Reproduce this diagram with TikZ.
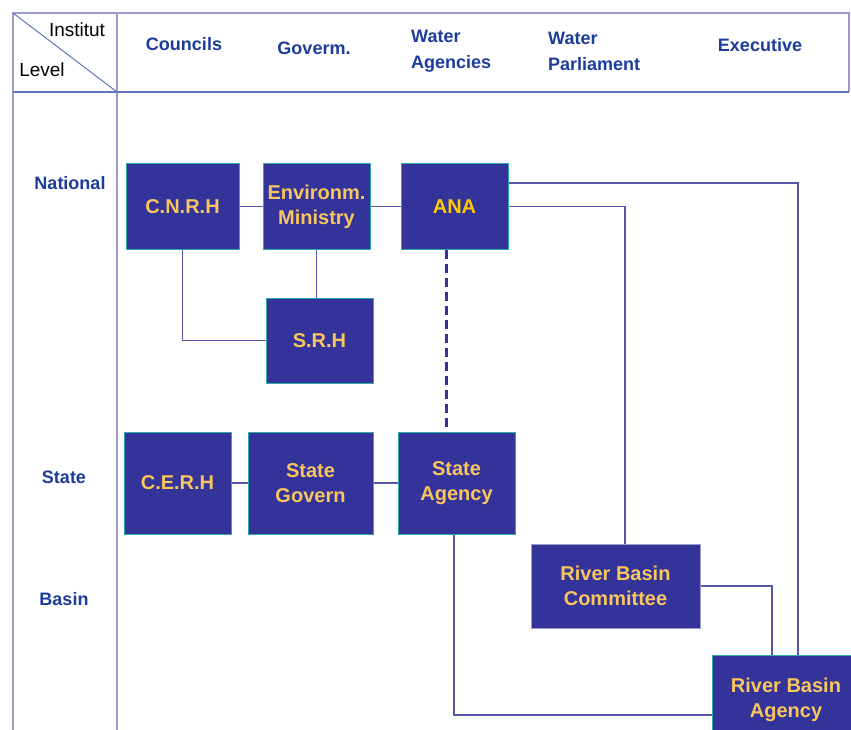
\documentclass[tikz,border=0pt]{standalone}
\usepackage{fontspec}
\setmainfont{Liberation Sans}
\usetikzlibrary{positioning}
\definecolor{boxblue}{HTML}{333399}
\definecolor{boxedge}{HTML}{2FA8A8}
\definecolor{boxtext}{HTML}{F8C55E}
\definecolor{anatext}{HTML}{FFCC00}
\definecolor{headblue}{HTML}{1B3C9A}
\definecolor{gridline}{HTML}{9C9CCC}
\definecolor{linkline}{HTML}{5656AA}

\begin{document}
\begin{tikzpicture}[x=1pt,y=-1pt,
  inst/.style={fill=boxblue,draw=boxedge,line width=1pt,text=boxtext,font=\fontsize{20}{25}\selectfont\bfseries,align=center,inner sep=0pt},
  head/.style={font=\fontsize{18}{26}\selectfont\bfseries,text=headblue,align=left,inner sep=0pt},
  grid/.style={draw=gridline,line width=1.5pt},
  link/.style={draw=linkline,line width=1.2pt}]
\useasboundingbox (0,0) rectangle (851,730);

% table frame
\draw[grid] (13,730) -- (13,13) -- (849,13) -- (849,92);
\draw[grid] (117,13) -- (117,730);
\draw[draw=headblue!70,line width=1.2pt] (13,92) -- (849,92);
\draw[draw=headblue!70,line width=1pt] (13,13) -- (117,92);

\node[font=\fontsize{19}{22}\selectfont,inner sep=0pt] (inst) at (77,30) {Institut};
\node[font=\fontsize{19}{22}\selectfont,inner sep=0pt] (level) at (42,70) {Level};

\node[head] (councils) at (184,44) {Councils};
\node[head] (goverm) at (314,48) {Goverm.};
\node[head,anchor=west] (wagencies) at (411,51) {Water\\Agencies};
\node[head,anchor=west] (wparl) at (548,51) {Water\\Parliament};
\node[head] (exec) at (760,45) {Executive};

\node[head] (national) at (70,183) {National};
\node[head] (state) at (64,477) {State};
\node[head] (basin) at (64,599) {Basin};

% institutions
\node[inst,minimum width=113pt,minimum height=85pt] (cnrh) at (182.5,206.5) {C.N.R.H};
\node[inst,minimum width=107pt,minimum height=85pt] (envmin) at (316.5,206.5) {Environm.\\Ministry};
\node[inst,minimum width=107pt,minimum height=85pt,text=anatext] (ana) at (454.5,206.5) {ANA};
\node[inst,minimum width=107pt,minimum height=85pt] (srh) at (319.5,340.5) {S.R.H};
\node[inst,minimum width=107pt,minimum height=102pt] (cerh) at (177.5,483) {C.E.R.H};
\node[inst,minimum width=125pt,minimum height=102pt] (stgov) at (310.5,483) {State\\Govern};
\node[inst,minimum width=117pt,minimum height=102pt] (stag) at (456.5,483) {State\\Agency};
\node[inst,draw=gridline,minimum width=169pt,minimum height=84pt] (rbc) at (615.5,586) {River Basin\\Committee};
\node[inst,minimum width=148pt,minimum height=90pt] (rba) at (786,700) {River Basin\\Agency};

% links
\draw[link] (cnrh.east) -- (envmin.west);
\draw[link] (envmin.east) -- (ana.west);
\draw[link] (envmin.south) -- (envmin.south |- srh.north);
\draw[link] (cnrh.south) |- (srh.west);
\draw[link,dash pattern=on 9pt off 5pt,line width=2.5pt,draw=boxblue] ([xshift=-8pt]ana.south) -- ([xshift=-8pt]ana.south |- stag.north);
\draw[link] (cerh.east) -- (stgov.west);
\draw[link] (stgov.east) -- (stag.west);
\draw[link] ([yshift=23.5pt]ana.east) -| ([xshift=12pt]rba.north);
\draw[link] (ana.east) -| ([xshift=9.5pt]rbc.north);
\draw[link] ([xshift=-2.5pt]stag.south) |- ([yshift=-15pt]rba.west);
\draw[link] (rbc.east) -| ([xshift=-14pt]rba.north);

\end{tikzpicture}
\end{document}
